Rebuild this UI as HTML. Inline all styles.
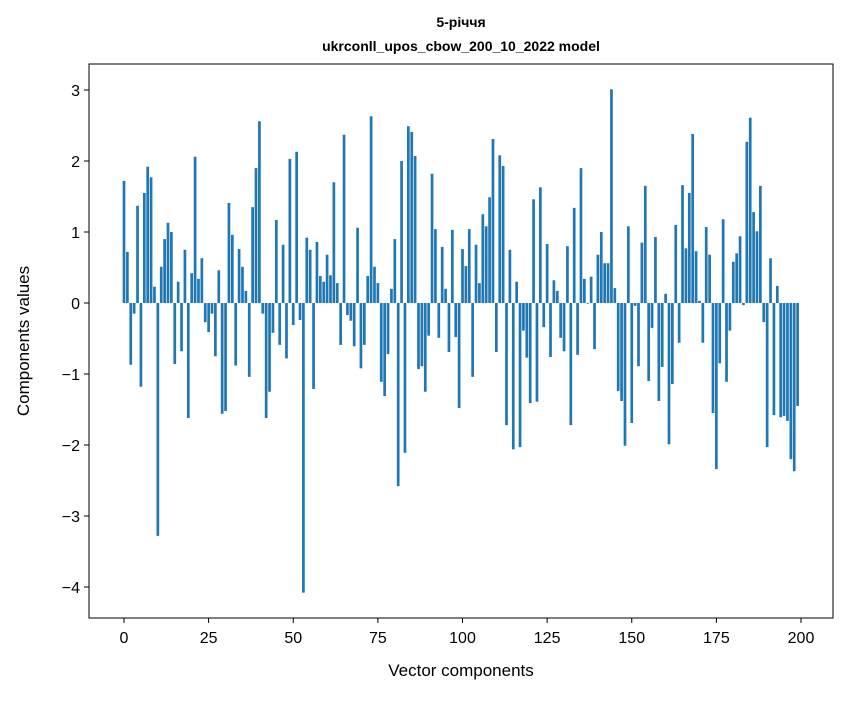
<!DOCTYPE html>
<html><head><meta charset="utf-8"><style>
body{margin:0;background:#fff;}
svg text{font-family:"Liberation Sans","DejaVu Sans",sans-serif;fill:#000;}
</style></head><body>
<svg width="847" height="696" viewBox="0 0 847 696" id="chart">
<rect x="0" y="0" width="847" height="696" fill="#fff"/>
<text x="461" y="27" font-size="14" font-weight="bold" text-anchor="middle">5-річчя</text>
<text x="461" y="51" font-size="14" font-weight="bold" text-anchor="middle">ukrconll_upos_cbow_200_10_2022 model</text>
<g id="bars"></g>
<g id="xticks"></g>
<g id="yticks"></g>
<rect x="89" y="64" width="744" height="554" fill="none" stroke="#000" stroke-width="1"/>
<text x="461" y="676" font-size="17" text-anchor="middle">Vector components</text>
<text x="0" y="0" font-size="17" text-anchor="middle" transform="translate(29,341) rotate(-90)">Components values</text>
</svg>
<script>
const values=[1.72,0.72,-0.87,-0.15,1.37,-1.18,1.55,1.92,1.77,0.23,
-3.28,0.51,0.90,1.13,1.00,-0.86,0.30,-0.68,0.75,-1.62,
0.42,2.06,0.34,0.63,-0.27,-0.41,-0.15,-0.75,0.46,-1.56,
-1.52,1.41,0.96,-0.88,0.76,0.51,0.17,-1.04,1.35,1.90,
2.56,-0.15,-1.62,-1.25,-0.42,1.17,-0.59,0.82,-0.78,2.03,
-0.31,2.13,-0.24,-4.08,0.92,0.75,-1.21,0.86,0.38,0.30,
0.68,0.39,1.70,0.28,-0.59,2.37,-0.17,-0.25,-0.61,1.06,
-0.92,-0.59,0.38,2.63,0.51,0.28,-1.11,-1.31,-0.72,0.20,
0.90,-2.58,2.00,-2.11,2.49,2.41,2.07,-0.93,-0.89,-1.25,
-0.46,1.82,1.04,-0.49,0.79,0.20,-0.69,1.03,-0.48,-1.48,
0.76,0.52,1.04,-1.04,0.82,0.28,1.25,1.08,1.49,2.31,
-0.69,2.08,1.93,-1.72,0.75,-2.06,0.30,-2.03,-0.39,-0.77,
-1.41,1.46,-1.39,1.63,-0.34,0.83,-0.76,0.32,0.17,-0.49,
-0.68,0.80,-1.72,1.34,-0.73,1.90,0.34,-0.01,0.37,-0.65,
0.68,1.00,0.56,0.56,3.01,0.21,-1.24,-1.38,-2.01,1.08,
-1.69,-0.04,-0.89,0.85,1.65,-1.10,-0.35,0.93,-1.38,-0.90,
0.13,-1.99,-1.14,1.10,-0.56,1.66,0.77,1.55,2.38,0.73,
0.03,-0.56,1.07,0.68,-1.55,-2.34,-0.85,1.18,-1.11,-0.39,
0.58,0.70,0.94,-0.03,2.27,2.61,1.28,1.01,1.65,-0.27,
-2.03,0.63,-1.58,0.24,-1.61,-1.59,-1.66,-2.20,-2.37,-1.45];
const xTicks=[0,25,50,75,100,125,150,175,200];
const yTicks=[3,2,1,0,-1,-2,-3,-4];
const yTickLabels=["3","2","1","0","\u22121","\u22122","\u22123","\u22124"];
const NS="http://www.w3.org/2000/svg";
function xs(v){return 124+v*3.385;}
function ys(v){return 303-v*71;}
const bars=document.getElementById('bars');
values.forEach((v,i)=>{
  const r=document.createElementNS(NS,'rect');
  const w=0.8*3.385;
  r.setAttribute('x',xs(i)-w/2);
  r.setAttribute('width',w);
  r.setAttribute('y',Math.min(ys(v),ys(0)));
  r.setAttribute('height',Math.abs(ys(v)-ys(0)));
  r.setAttribute('fill','#1f77b4');
  
  
  bars.appendChild(r);
});
const xg=document.getElementById('xticks');
xTicks.forEach(t=>{
  const l=document.createElementNS(NS,'line');
  l.setAttribute('x1',xs(t));l.setAttribute('x2',xs(t));
  l.setAttribute('y1',618);l.setAttribute('y2',623);
  l.setAttribute('stroke','#000');
  
  
  xg.appendChild(l);
  const tx=document.createElementNS(NS,'text');
  tx.setAttribute('x',xs(t));tx.setAttribute('y',643);
  tx.setAttribute('font-size','16');tx.setAttribute('text-anchor','middle');
  tx.textContent=String(t);
  
  
  xg.appendChild(tx);
});
const yg=document.getElementById('yticks');
yTicks.forEach((t,k)=>{
  const l=document.createElementNS(NS,'line');
  l.setAttribute('x1',84);l.setAttribute('x2',89);
  l.setAttribute('y1',ys(t));l.setAttribute('y2',ys(t));
  l.setAttribute('stroke','#000');
  
  
  yg.appendChild(l);
  const tx=document.createElementNS(NS,'text');
  tx.setAttribute('x',80);tx.setAttribute('y',ys(t)+6);
  tx.setAttribute('font-size','16');tx.setAttribute('text-anchor','end');
  tx.textContent=yTickLabels[k];
  
  
  yg.appendChild(tx);
});
</script>
</body></html>
